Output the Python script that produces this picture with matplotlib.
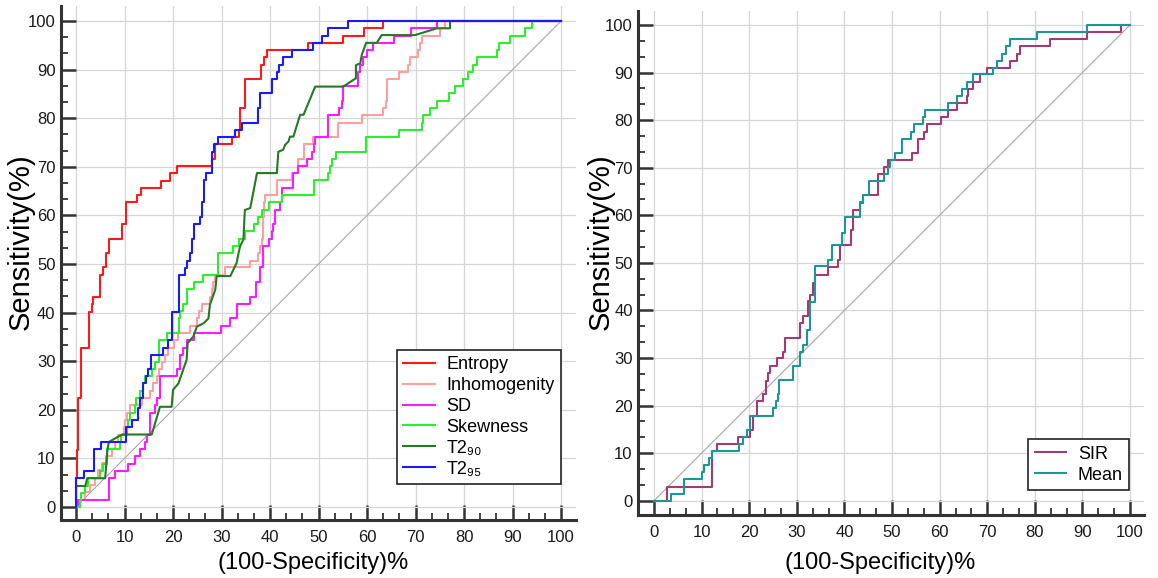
import numpy as np
import matplotlib
matplotlib.use("Agg")
import matplotlib.pyplot as plt
from matplotlib.ticker import MultipleLocator, AutoMinorLocator

plt.rcParams['font.family'] = ['Liberation Sans', 'DejaVu Sans']

# ── left panel: ROC curves (x = 100-specificity, y = sensitivity), step-post ──
entropy_x = [0, 0, 0.2, 0.3, 1.1, 2.6, 3.2, 3.5, 4.9, 5.6, 6.2, 6.7, 9.4, 10.2, 12.6, 13.4, 17.5, 19.4, 20.8,
             28.1, 28.7, 32.1, 33.5, 33.8, 34.8, 38.1, 38.8, 39.4, 47.9, 55.1, 59.4, 63.2, 100]
entropy_y = [0, 5.9, 11.7, 22.4, 32.8, 40.2, 41.8, 43.3, 47.7, 49.3, 52.2, 55.2, 58.2, 62.7, 64.2, 65.6, 67.1, 68.7, 70.1,
             71.6, 74.6, 76.1, 77.6, 82.1, 88.1, 91.0, 92.5, 94.0, 95.5, 97.0, 98.5, 100, 100]

inhom_x = [0, 0.8, 1.9, 2.9, 3.9, 4.6, 5.3, 6.2, 7.5, 8.0, 8.7, 9.8, 10.1, 10.5, 11.1, 13.5, 15.3, 15.9, 16.6, 17.0,
           17.7, 18.4, 19.0, 20.1, 21.1, 23.5, 24.9, 25.4, 25.9, 27.6, 28.0, 28.3, 28.7, 30.7, 35.9, 37.6, 37.9, 38.3,
           38.5, 38.6, 38.8, 39.0, 41.5, 44.5, 45.8, 46.9, 48.9, 54.1, 58.9, 63.3, 63.9, 64.2, 66.5, 68.5, 68.9, 70.6,
           70.9, 71.3, 75.1, 76.1, 100]
inhom_y = [0, 1.5, 3.0, 4.5, 6.0, 7.5, 9.0, 10.4, 11.9, 13.4, 14.9, 16.4, 17.9, 19.4, 20.9, 22.4, 23.9, 25.4, 26.9, 28.4,
           29.9, 31.3, 32.8, 34.3, 35.8, 37.3, 38.8, 40.3, 41.8, 43.3, 44.8, 46.3, 47.8, 49.3, 50.7, 52.2, 53.7, 55.2,
           56.7, 59.7, 62.7, 64.2, 67.2, 68.7, 71.7, 74.6, 76.1, 79.1, 80.6, 82.1, 83.6, 88.1, 89.6, 91.0, 92.5, 94.0,
           95.5, 97.0, 98.5, 100, 100]

sd_x = [0, 0.5, 6.7, 8.0, 10.8, 12.2, 13.2, 14.2, 14.6, 15.3, 16.3, 16.6, 17.3, 20.8, 21.4, 22.1, 22.8, 24.4, 29.9,
        31.8, 33.1, 35.9, 37.1, 37.9, 38.6, 39.7, 40.3, 40.7, 41.0, 42.1, 42.4, 44.8, 45.8, 47.6, 48.6, 49.0, 49.3,
        52.0, 54.3, 54.8, 55.0, 58.2, 58.6, 59.1, 59.9, 61.3, 65.6, 69.0, 74.5, 100]
sd_y = [0, 1.5, 5.9, 7.4, 8.9, 10.4, 11.9, 13.4, 14.9, 19.4, 20.9, 22.4, 26.9, 28.4, 31.3, 32.8, 34.3, 35.8, 37.3,
        38.8, 41.8, 43.3, 46.3, 49.3, 53.7, 55.2, 56.7, 58.2, 61.2, 62.7, 65.7, 68.7, 70.1, 71.6, 73.1, 74.6, 76.1,
        80.6, 82.1, 83.6, 86.6, 89.6, 91.0, 92.5, 94.0, 95.5, 97.0, 98.5, 100, 100]

skew_x = [0, 0.8, 1.0, 1.9, 2.5, 5.0, 5.6, 6.3, 9.1, 9.3, 10.5, 10.8, 11.1, 12.2, 12.4, 13.2, 13.9, 14.2, 15.6, 16.3,
          17.0, 18.7, 21.2, 21.4, 22.0, 22.8, 24.3, 26.2, 29.3, 32.4, 33.5, 34.8, 36.6, 37.6, 38.3, 39.7, 42.5, 49.0,
          52.0, 52.4, 52.7, 53.6, 59.8, 66.5, 71.3, 71.6, 73.0, 74.4, 76.8, 78.1, 79.7, 80.9, 81.9, 82.6, 86.7, 87.2,
          89.5, 92.6, 94.0, 100]
skew_y = [0, 1.5, 2.9, 4.4, 5.9, 7.4, 8.9, 11.9, 13.4, 14.9, 16.4, 17.9, 19.4, 20.9, 22.4, 23.9, 25.4, 26.9, 28.4, 29.9,
          34.3, 35.8, 38.8, 40.3, 41.8, 44.8, 46.3, 47.8, 52.2, 53.7, 55.2, 56.7, 58.2, 59.7, 61.2, 62.7, 64.2, 67.2,
          68.7, 70.1, 71.6, 73.1, 76.1, 77.6, 79.1, 80.6, 82.1, 83.6, 85.1, 86.6, 88.1, 89.6, 91.0, 92.5, 94.0, 95.5,
          97.0, 98.5, 100, 100]

# T2 90 has a few sloped segments -> plain polyline vertices
t2_90_x = [0, 0, 1.9, 2.3, 6.0, 6.5, 6.8, 9.5, 15.6, 17.3, 19.7, 20.0, 21.1, 22.8, 23.0, 24.2, 24.9, 26.3, 27.3, 27.6,
           28.7, 29.0, 31.8, 33.1, 33.5, 33.8, 34.5, 34.8, 35.9, 36.5, 37.3, 41.4, 41.7, 42.7, 43.1, 43.8, 44.1, 44.8,
           46.2, 46.9, 49.3, 55.1, 57.2, 57.7, 57.7, 58.6, 58.9, 59.8, 62.0, 63.0, 69.9, 74.4, 77.1, 77.1, 100]
t2_90_y = [0, 4.3, 4.3, 5.9, 5.9, 12.1, 13.4, 14.9, 14.9, 20.6, 20.6, 24.1, 25.4, 30.3, 33.7, 35.1, 37.1, 37.8, 38.8, 41.6,
           44.7, 47.5, 47.5, 50.2, 52.2, 53.6, 55.0, 61.1, 61.5, 64.5, 68.7, 68.7, 73.1, 73.5, 74.5, 75.2, 76.2, 76.2,
           80.7, 80.7, 86.5, 86.5, 87.9, 88.2, 90.9, 91.3, 93.0, 95.5, 95.5, 97.1, 97.1, 98.5, 98.5, 100, 100]

t2_95_x = [0, 0, 1.6, 3.8, 5.2, 10.3, 11.5, 12.8, 13.2, 13.9, 14.4, 14.9, 15.4, 17.9, 19.0, 19.7, 21.2, 22.5, 22.8, 23.5,
           24.0, 24.4, 25.6, 25.9, 26.3, 26.7, 28.0, 28.5, 29.3, 32.8, 34.2, 37.6, 38.0, 40.3, 41.4, 41.9, 42.7, 44.5,
           48.9, 50.8, 52.0, 56.1, 100]
t2_95_y = [0, 5.9, 7.4, 11.9, 13.4, 16.4, 17.9, 20.3, 22.4, 25.4, 26.9, 28.4, 31.3, 32.8, 34.3, 40.2, 47.7, 49.2, 50.7, 52.2,
           55.2, 58.2, 59.7, 62.7, 67.2, 68.7, 73.1, 74.6, 76.1, 77.6, 79.1, 82.1, 85.1, 88.1, 89.6, 91.0, 92.5, 94.0,
           95.5, 97.0, 98.5, 100, 100]

# ── right panel ──
sir_x = [0, 2.7, 12.1, 13.3, 17.6, 20.2, 20.9, 21.6, 23.0, 23.5, 23.9, 24.4, 25.8, 27.0, 27.5, 30.7, 31.4, 32.4, 32.8,
         33.5, 33.8, 36.6, 38.6, 39.1, 41.3, 41.7, 43.3, 44.0, 47.1, 48.3, 49.2, 54.1, 55.4, 56.8, 57.4, 60.3, 61.8,
         63.7, 65.7, 65.9, 67.1, 68.5, 69.9, 74.8, 76.2, 76.9, 83.2, 90.9, 98.2, 100]
sir_y = [0, 2.9, 10.4, 11.9, 13.4, 14.9, 17.9, 20.9, 22.4, 25.2, 26.8, 28.3, 29.9, 31.3, 34.3, 37.3, 38.8, 42.0, 43.3,
         45.8, 47.5, 49.2, 50.6, 53.7, 56.9, 61.2, 62.6, 64.2, 68.7, 70.1, 71.6, 73.1, 76.1, 77.6, 79.1, 80.6, 82.1,
         83.6, 85.1, 86.6, 88.1, 89.6, 91.0, 92.5, 94.0, 95.5, 97.0, 98.5, 100, 100]

mean_x = [0, 3.5, 6.2, 10.0, 10.5, 11.6, 12.1, 17.9, 18.6, 19.5, 20.2, 25.1, 25.6, 26.1, 26.3, 29.3, 30.7, 31.3, 32.1,
          32.8, 33.8, 36.6, 37.3, 39.4, 40.1, 43.3, 44.0, 45.2, 48.3, 49.2, 49.6, 50.6, 52.0, 53.9, 54.6, 56.6, 56.9,
          61.8, 63.7, 64.8, 65.7, 67.1, 71.3, 72.1, 73.0, 74.0, 74.8, 80.4, 90.9, 100]
mean_y = [0, 1.5, 4.5, 6.0, 7.5, 9.0, 10.4, 11.9, 13.4, 14.9, 17.9, 19.4, 20.9, 22.4, 25.4, 28.3, 31.3, 32.8, 35.8,
          41.8, 49.3, 50.7, 53.7, 56.2, 59.7, 62.7, 64.2, 67.2, 68.7, 70.1, 71.6, 73.1, 76.1, 77.6, 79.1, 80.6, 82.1,
          83.6, 85.1, 86.6, 88.1, 89.6, 91.0, 92.5, 94.0, 95.5, 97.0, 98.5, 100, 100]

ticks = np.arange(0, 101, 10)
tick_labels = [str(t) for t in ticks]

fig = plt.figure(figsize=(11.58, 5.78), dpi=100)
ax1 = fig.add_axes([0.0527, 0.1003, 0.4444, 0.8886])
ax2 = fig.add_axes([0.5512, 0.1090, 0.4370, 0.8725])

LW = 1.5
for ax in (ax1, ax2):
    ax.plot([0, 100], [0, 100], color="#a8a8a8", lw=0.8, zorder=1)

ax1.plot(entropy_x, entropy_y, drawstyle="steps-post", color="#ff1a1a", lw=LW, label="Entropy")
ax1.plot(inhom_x, inhom_y, drawstyle="steps-post", color="#ff9f9f", lw=LW, label="Inhomogenity")
ax1.plot(sd_x, sd_y, drawstyle="steps-post", color="#ff1aff", lw=LW, label="SD")
ax1.plot(skew_x, skew_y, drawstyle="steps-post", color="#2bf02b", lw=LW, label="Skewness")
ax1.plot(t2_90_x, t2_90_y, color="#237a23", lw=LW, label="T2\u2089\u2080")
ax1.plot(t2_95_x, t2_95_y, drawstyle="steps-post", color="#1a1aff", lw=LW, label="T2\u2089\u2085")

ax2.plot(sir_x, sir_y, drawstyle="steps-post", color="#a33a72", lw=LW, label="SIR")
ax2.plot(mean_x, mean_y, drawstyle="steps-post", color="#1f9696", lw=LW, label="Mean")

ax1.set_xlim(-3.1, 103)
ax1.set_ylim(-2.7, 103)
ax2.set_xlim(-3.3, 103)
ax2.set_ylim(-3.0, 103)

for ax in (ax1, ax2):
    for ln in ax.lines:
        ln.set_clip_on(False)
    ax.spines["top"].set_visible(False)
    ax.spines["right"].set_visible(False)
    for s in ("left", "bottom"):
        ax.spines[s].set_linewidth(2.2)
        ax.spines[s].set_color("#333333")
    ax.set_xticks(ticks)
    ax.set_yticks(ticks)
    ax.set_xticklabels(tick_labels)
    ax.set_yticklabels(tick_labels)
    ax.xaxis.set_minor_locator(AutoMinorLocator(3))
    ax.yaxis.set_minor_locator(AutoMinorLocator(3))
    ax.tick_params(which="major", direction="in", length=10.5, width=1.8, color="#333333",
                   labelsize=12, labelcolor="#1a1a1a", pad=4)
    ax.tick_params(which="minor", direction="in", length=5, width=1.3, color="#333333")
    ax.tick_params(axis="x", which="major", pad=7)
    ax.grid(True, which="major", color="#d6d6d6", lw=0.9, zorder=0)
    ax.set_axisbelow(True)

leg1 = ax1.legend(loc="lower right", bbox_to_anchor=(0.9716, 0.070), borderaxespad=0, fontsize=13,
                  frameon=True, fancybox=False, framealpha=1, edgecolor="#222222",
                  handlelength=1.75, handletextpad=0.65, labelspacing=0.22, borderpad=0.35)
leg1.get_frame().set_linewidth(1.2)
leg2 = ax2.legend(loc="lower right", bbox_to_anchor=(0.970, 0.0496), borderaxespad=0, fontsize=13,
                  frameon=True, fancybox=False, framealpha=1, edgecolor="#222222",
                  handlelength=1.75, handletextpad=0.65, labelspacing=0.22, borderpad=0.35)
leg2.get_frame().set_linewidth(1.2)

fig.text(21 / 1158, 1 - 242 / 578, "Sensitivity(%)", rotation=90, ha="center", va="center", fontsize=21)
fig.text(601 / 1158, 1 - 242 / 578, "Sensitivity(%)", rotation=90, ha="center", va="center", fontsize=21)
fig.text(313 / 1158, 1 - 563 / 578, "(100-Specificity)%", ha="center", va="center", fontsize=17)
fig.text(880 / 1158, 1 - 563 / 578, "(100-Specificity)%", ha="center", va="center", fontsize=17)

fig.savefig("out.png", dpi=100)
